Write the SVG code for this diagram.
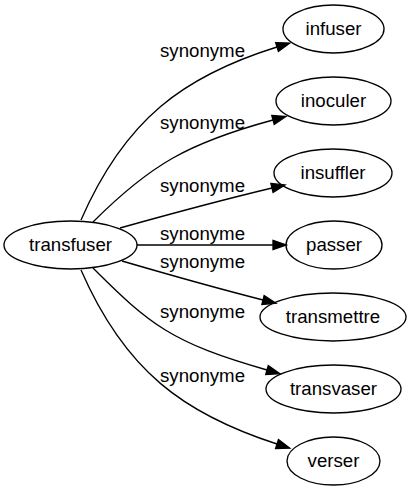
<svg xmlns="http://www.w3.org/2000/svg" width="412" height="491" viewBox="0 0 412 491">
<defs>
<marker id="arr" markerUnits="userSpaceOnUse" markerWidth="16" markerHeight="12" refX="0" refY="0" viewBox="0 -6 16 12" orient="auto" overflow="visible">
<path d="M0,-4.67 L13.33,0 L0,4.67 Z" fill="#000" stroke="#000" stroke-width="1.33"/>
</marker>
<style>
.node ellipse{fill:none;stroke:#000;stroke-width:1.33}
.node text{font-family:"Liberation Sans",Arial,sans-serif;font-size:18.67px;fill:#000;text-anchor:middle}
.edge path{fill:none;stroke:#000;stroke-width:1.33;marker-end:url(#arr)}
.lbl{font-family:"Liberation Sans",Arial,sans-serif;font-size:18.67px;fill:#000;text-anchor:middle}
</style>
</defs>
<rect width="412" height="491" fill="#fff"/>
<g id="connectors">
<g class="edge" id="e1"><path d="M81,220 C125,119 184,76 277,47"/><text class="lbl" x="202.5" y="57">synonyme</text></g>
<g class="edge" id="e2"><path d="M93,222 C150,165 188,143 273,120"/><text class="lbl" x="202.5" y="129">synonyme</text></g>
<g class="edge" id="e3"><path d="M120,228 C170,214 222,200 272,188"/><text class="lbl" x="202.5" y="192">synonyme</text></g>
<g class="edge" id="e4"><path d="M137,245 L273,245"/><text class="lbl" x="202.5" y="240">synonyme</text></g>
<g class="edge" id="e5"><path d="M122,261 C170,275 216,288 263,300"/><text class="lbl" x="202.5" y="268">synonyme</text></g>
<g class="edge" id="e6"><path d="M93,268 C150,325 172,343 267,370"/><text class="lbl" x="202.5" y="317.5">synonyme</text></g>
<g class="edge" id="e7"><path d="M81,270 C125,371 184,414 277,444"/><text class="lbl" x="202.5" y="381.5">synonyme</text></g>
</g>
<g class="node" id="transfuser"><ellipse cx="70.5" cy="245" rx="66.5" ry="24"/><text x="70.5" y="251">transfuser</text></g>
<g class="node" id="infuser"><ellipse cx="333.5" cy="29" rx="50.5" ry="24"/><text x="333.5" y="35">infuser</text></g>
<g class="node" id="inoculer"><ellipse cx="333.5" cy="101" rx="57.5" ry="24"/><text x="333.5" y="107">inoculer</text></g>
<g class="node" id="insuffler"><ellipse cx="333" cy="173" rx="59" ry="24"/><text x="333" y="179">insuffler</text></g>
<g class="node" id="passer"><ellipse cx="334" cy="245" rx="48" ry="24"/><text x="334" y="251">passer</text></g>
<g class="node" id="transmettre"><ellipse cx="333" cy="317" rx="73" ry="24"/><text x="333" y="323">transmettre</text></g>
<g class="node" id="transvaser"><ellipse cx="333.5" cy="389" rx="67.5" ry="24"/><text x="333.5" y="395">transvaser</text></g>
<g class="node" id="verser"><ellipse cx="333.5" cy="461" rx="46.5" ry="24"/><text x="333.5" y="467">verser</text></g>
</svg>
